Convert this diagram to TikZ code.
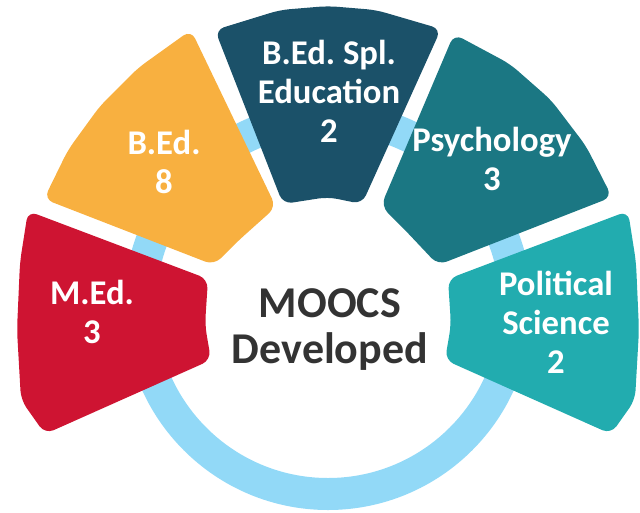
\documentclass[tikz,border=0pt]{standalone}
\usepackage{fontspec}
\setmainfont{Carlito}
\definecolor{medred}{HTML}{CE1432}
\definecolor{bedorange}{HTML}{F8B040}
\definecolor{spldark}{HTML}{1B5169}
\definecolor{psyteal}{HTML}{1B7783}
\definecolor{polteal}{HTML}{22ACAF}
\definecolor{ringblue}{HTML}{92D9F7}
\definecolor{textgrey}{HTML}{333333}
\frenchspacing
\begin{document}
\begin{tikzpicture}[x=0.75pt,y=-0.75pt,
	seg/.style={rounded corners=7pt},
	lbl/.style={text=white,font=\bfseries\fontsize{26}{29}\selectfont,align=center,anchor=base,inner sep=0pt}]
	\useasboundingbox (0,0) rectangle (640,512);
	% ring behind the blocks
	\draw[ringblue,line width=24pt] (328,306) circle[radius=141pt];
	% blocks
	\fill[medred,seg] (17,330) -- (20,262) -- (28,211) -- (208,279) -- (205,325) -- (211,360) -- (45,434) -- (21,400) -- cycle;
	\fill[bedorange,seg] (138,68) -- (191,30) -- (276,207) -- (238,241) -- (214,265) -- (44,199) -- (68,150) -- (100,106) -- cycle;
	\fill[spldark,seg] (280,10) -- (328,6) -- (376,10) -- (441,29) -- (362,204) -- (328,197) -- (283,204) -- (215,30) -- cycle;
	\fill[psyteal,seg] (510,64) -- (454,34) -- (381,206) -- (405,230) -- (438,265) -- (612,197) -- (586,146) -- (551,100) -- cycle;
	\fill[polteal,seg] (639,330) -- (636,262) -- (628,211) -- (448,279) -- (451,325) -- (445,360) -- (611,434) -- (635,400) -- cycle;
	% labels (placed at the baseline of the last line)
	\node[lbl] (med) at (92,343) {M.Ed.\\3};
	\node[lbl] (bed) at (164,193) {B.Ed.\\8};
	\node[lbl] (bedspl) at (329,142) {B.Ed. Spl.\\Education\\2};
	\node[lbl] (psy) at (492,190) {Psychology\\3};
	\node[lbl] (pol) at (556,373) {Political\\Science\\2};
	\node[lbl,text=textgrey,font=\bfseries\fontsize{33}{34}\selectfont] (moocs) at (330,363) {MOOCS\\Developed};
\end{tikzpicture}
\end{document}
